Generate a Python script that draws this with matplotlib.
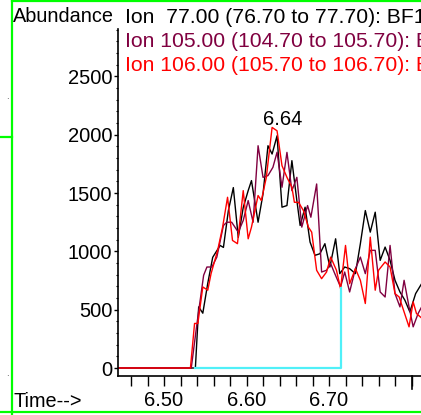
import numpy as np
import matplotlib
matplotlib.use("Agg")
import matplotlib.pyplot as plt
from matplotlib.lines import Line2D

plt.rcParams['font.family'] = ['Liberation Sans', 'DejaVu Sans']

# Ion 77 (black)
black_t = [6.444, 6.538, 6.542, 6.547, 6.553, 6.559, 6.568, 6.572, 6.578, 6.584, 6.590,
           6.596, 6.602, 6.606, 6.614, 6.620, 6.626, 6.631, 6.637, 6.643, 6.649, 6.655,
           6.661, 6.665, 6.671, 6.677, 6.683, 6.689, 6.695, 6.701, 6.708, 6.713, 6.719,
           6.725, 6.732, 6.738, 6.744, 6.750, 6.756, 6.762, 6.768, 6.774, 6.780, 6.786,
           6.792, 6.798, 6.805, 6.812]
black_y = [0, 0, 524, 470, 726, 949, 1051, 1034, 1350, 1547, 1120,
           1376, 1521, 1607, 1250, 1493, 1906, 1835, 1991, 1379, 1393, 1778,
           1436, 1222, 1379, 1080, 966, 980, 1066, 866, 1108, 809, 866,
           852, 809, 1066, 1350, 1165, 1336, 923, 1037, 923, 752, 652,
           581, 481, 638, 720]

# Ion 105 (purple)
purple_t = [6.444, 6.533, 6.540, 6.548, 6.552, 6.558, 6.564, 6.572, 6.576, 6.582, 6.590,
            6.596, 6.602, 6.608, 6.614, 6.620, 6.626, 6.632, 6.637, 6.643, 6.649, 6.655,
            6.661, 6.667, 6.674, 6.678, 6.685, 6.691, 6.697, 6.702, 6.707, 6.714, 6.719,
            6.725, 6.732, 6.738, 6.744, 6.750, 6.756, 6.762, 6.768, 6.774, 6.780, 6.786,
            6.791, 6.797, 6.802, 6.808, 6.812]
purple_y = [0, 0, 385, 795, 866, 866, 951, 1222, 1250, 1250, 1165,
            1265, 1436, 1250, 1906, 1635, 1650, 1721, 1850, 1550, 1849, 1521,
            1635, 1208, 1393, 1293, 1578, 823, 838, 895, 809, 695, 823,
            652, 852, 951, 809, 1009, 1009, 652, 609, 1051, 638, 524,
            752, 524, 353, 467, 520]

# Ion 106 (red)
red_t = [6.444, 6.532, 6.537, 6.541, 6.547, 6.553, 6.557, 6.565, 6.571, 6.577, 6.583,
         6.589, 6.596, 6.602, 6.606, 6.614, 6.618, 6.624, 6.631, 6.637, 6.643, 6.649,
         6.655, 6.658, 6.663, 6.669, 6.675, 6.679, 6.685, 6.691, 6.697, 6.702, 6.709,
         6.714, 6.720, 6.725, 6.732, 6.738, 6.744, 6.750, 6.756, 6.760, 6.768, 6.774,
         6.780, 6.785, 6.791, 6.797, 6.802, 6.806, 6.812]
red_y = [0, 0, 382, 382, 695, 667, 809, 1009, 1208, 1464, 1094,
         1066, 1521, 1108, 1208, 1479, 1436, 1635, 2063, 2034, 1735, 1635,
         1550, 1421, 1421, 1350, 1208, 1165, 838, 766, 823, 951, 838,
         681, 1051, 723, 852, 752, 553, 1122, 667, 838, 909, 866,
         638, 609, 481, 353, 567, 467, 430]

# integration baseline (cyan)
base_t = [6.538, 6.714, 6.714]
base_y = [0, 0, 684]

peak_label = "6.64"
peak_t, peak_y = 6.644, 2080

W, H = 421, 415
fig = plt.figure(figsize=(W / 100, H / 100), dpi=100)
ax = fig.add_axes([118 / W, (H - 376) / H, (W - 118) / W, (376 - 29) / H])

ax.plot(black_t, black_y, color='black', lw=1.0)
ax.plot(purple_t, purple_y, color='#800040', lw=1.0)
ax.plot(red_t, red_y, color='#ff0000', lw=1.0)
ax.plot(base_t, base_y, color='#50f0f8', lw=1.6)

ax.set_xlim(6.4442, 6.8115)
ax.set_ylim(-68.6, 2907)
for s in ['top', 'right']:
    ax.spines[s].set_visible(False)
ax.spines['left'].set_linewidth(1.2)
ax.spines['bottom'].set_linewidth(1.2)

ax.set_xticks(np.arange(6.46, 6.81, 0.02), minor=True)
ax.set_xticks([6.50, 6.60, 6.70])
ax.set_xticklabels(['6.50', '6.60', '6.70'])
ax.set_yticks([0, 500, 1000, 1500, 2000, 2500])
ax.set_yticks(np.arange(0, 2901, 100), minor=True)
ax.tick_params(axis='x', which='both', direction='out', length=7, width=1.0,
               labelsize=14.5, pad=4)
ax.tick_params(axis='y', which='major', direction='out', length=3, width=1.0,
               labelsize=14.5, pad=1)
ax.tick_params(axis='y', which='minor', direction='out', length=1.5, width=0.8)
ax.plot([6.80, 6.80], [-68.6, -180], color='black', lw=1.2, clip_on=False)

ax.text(peak_t, peak_y, peak_label, ha='center', va='baseline', fontsize=14.5)

def ftext(x, y, s, size=14.3, **kw):
    fig.text(x / W, 1 - y / H, s, va='baseline', fontsize=size, **kw)

ftext(13, 22, 'Abundance')
ftext(125, 23, 'Ion  77.00 (76.70 to 77.70): BF1', size=15.2, color='black')
ftext(125, 47, 'Ion 105.00 (104.70 to 105.70): BF1', size=15.2, color='#800040')
ftext(125, 71, 'Ion 106.00 (105.70 to 106.70): BF1', size=15.2, color='#ff0000')
ftext(13, 407, 'Time-->')

# green frame
g = '#00ff00'
for xs, ys in [([12, 12], [0, 415]), ([12, 421], [1, 1]),
               ([0, 421], [411.5, 411.5]), ([0, 12], [137, 137])]:
    fig.add_artist(Line2D([x / W for x in xs], [1 - y / H for y in ys],
                          color=g, lw=1.6, transform=fig.transFigure))
fig.text(6 / W, 1 - 99 / H, '.', fontsize=7, color='#444444')
fig.text(6 / W, 1 - 376 / H, '.', fontsize=7, color='#444444')

fig.savefig('out.png', dpi=100)
